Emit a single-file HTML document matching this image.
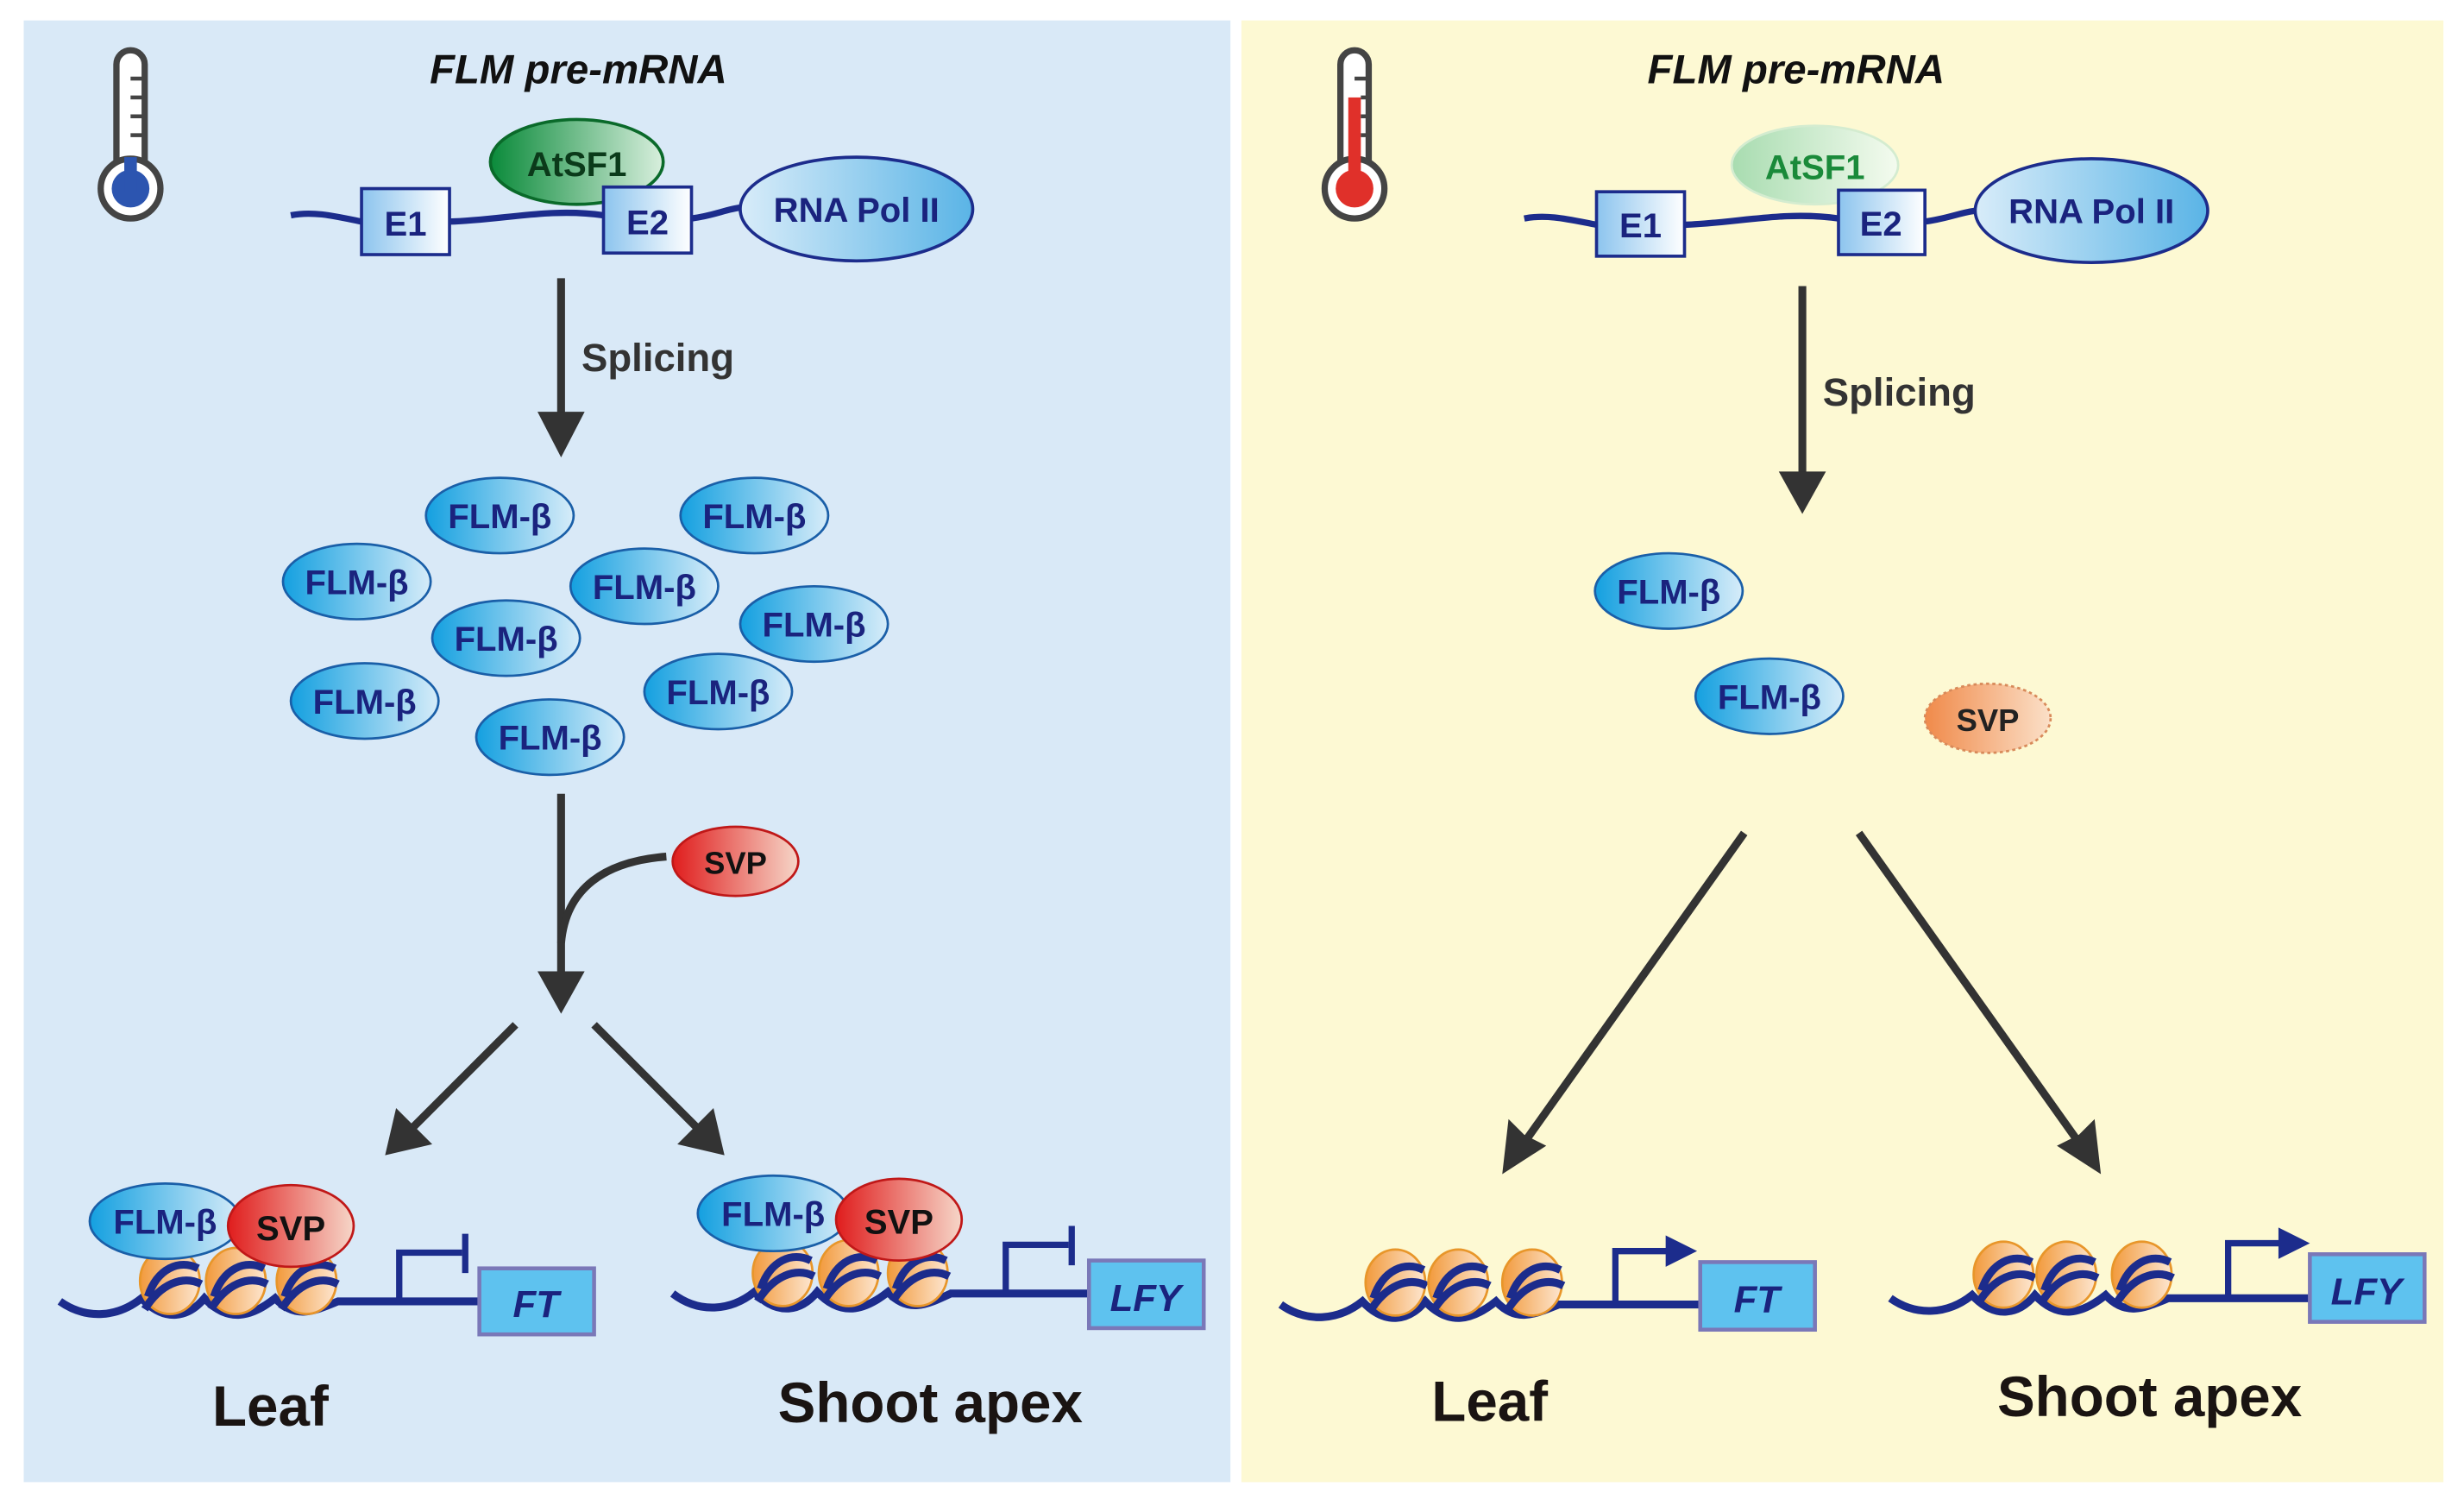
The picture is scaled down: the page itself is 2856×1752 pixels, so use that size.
<!DOCTYPE html>
<html><head><meta charset="utf-8"><style>
html,body{margin:0;padding:0;background:#fff;}
svg{display:block;}
text{font-family:"Liberation Sans",sans-serif;font-weight:bold;}
</style></head><body>
<svg width="2856" height="1752" viewBox="0 0 1568 962" xmlns="http://www.w3.org/2000/svg">
<defs>
<linearGradient id="gb" x1="0" x2="1" y1="0" y2="0"><stop offset="0" stop-color="#14a0e0"/><stop offset="1" stop-color="#d6ecf9"/></linearGradient>
<linearGradient id="gr" x1="0" x2="1"><stop offset="0" stop-color="#e01d1d"/><stop offset="1" stop-color="#f6d6c8"/></linearGradient>
<linearGradient id="gro" x1="0" x2="1"><stop offset="0" stop-color="#f08a4a"/><stop offset="1" stop-color="#fbe0c8"/></linearGradient>
<linearGradient id="gg" x1="0" x2="1"><stop offset="0" stop-color="#0a8a3a"/><stop offset="1" stop-color="#d8efdd"/></linearGradient>
<linearGradient id="ggl" x1="0" x2="1"><stop offset="0" stop-color="#a8dcb0"/><stop offset="1" stop-color="#f4fbef"/></linearGradient>
<linearGradient id="gbox" x1="0" x2="1"><stop offset="0" stop-color="#8cc4ee"/><stop offset="1" stop-color="#ffffff"/></linearGradient>
<linearGradient id="gpol" x1="0" x2="1"><stop offset="0" stop-color="#d8ecf9"/><stop offset="1" stop-color="#5ab4e6"/></linearGradient>
<linearGradient id="gn" x1="0" x2="1"><stop offset="0" stop-color="#f29a3c"/><stop offset="1" stop-color="#fde6d0"/></linearGradient>
<g id="nuc">
<ellipse cx="0" cy="0" rx="19" ry="21" fill="url(#gn)" stroke="#e8962a" stroke-width="1.5"/>
<path d="M-14,10 C-8,-8 6,-14 18,-8" fill="none" stroke="#1c2c8c" stroke-width="5"/>
<path d="M-16,18 C-6,2 8,-4 20,2" fill="none" stroke="#1c2c8c" stroke-width="5"/>
</g>
<g id="flm">
<ellipse cx="0" cy="0" rx="47" ry="24" fill="url(#gb)" stroke="#1a5fa8" stroke-width="1.5"/>
<text x="0" y="8" text-anchor="middle" font-size="22" fill="#1a237e">FLM-β</text>
</g>
</defs>

<rect x="15" y="13" width="768" height="930" fill="#d9e9f7"/>
<rect x="790" y="13" width="765" height="930" fill="#fdf9d3"/>

<!-- LEFT -->
<g>
<rect x="74" y="32" width="18" height="90" rx="9" fill="#fff" stroke="#444" stroke-width="4"/>
<circle cx="83" cy="120" r="19" fill="#fff" stroke="#444" stroke-width="4"/>
<circle cx="83" cy="120" r="12" fill="#2c55b0"/>
<rect x="79" y="100" width="8" height="22" fill="#2c55b0"/>
<g stroke="#444" stroke-width="2.5"><line x1="83" y1="50" x2="91" y2="50"/><line x1="83" y1="62" x2="91" y2="62"/><line x1="83" y1="74" x2="91" y2="74"/><line x1="83" y1="86" x2="91" y2="86"/></g>
</g>
<text x="368" y="53" text-anchor="middle" font-size="26" font-style="italic" fill="#111">FLM pre-mRNA</text>
<path d="M185,137 C200,134 215,138 230,141 M286,141 C320,140 350,132 384,137 M440,139 C455,137 462,133 472,132" fill="none" stroke="#1c2c8c" stroke-width="4"/>
<ellipse cx="367" cy="103" rx="55" ry="27" fill="url(#gg)" stroke="#0a6a2a" stroke-width="2"/>
<text x="367" y="112" text-anchor="middle" font-size="22" fill="#0b3a1a">AtSF1</text>
<rect x="230" y="120" width="56" height="42" fill="url(#gbox)" stroke="#1c2c8c" stroke-width="2"/>
<text x="258" y="150" text-anchor="middle" font-size="22" fill="#1a237e">E1</text>
<rect x="384" y="119" width="56" height="42" fill="url(#gbox)" stroke="#1c2c8c" stroke-width="2"/>
<text x="412" y="149" text-anchor="middle" font-size="22" fill="#1a237e">E2</text>
<ellipse cx="545" cy="133" rx="74" ry="33" fill="url(#gpol)" stroke="#1c2c8c" stroke-width="2"/>
<text x="545" y="141" text-anchor="middle" font-size="22" fill="#1a237e">RNA Pol II</text>

<line x1="357" y1="177" x2="357" y2="265" stroke="#333" stroke-width="5"/>
<polygon points="342,262 372,262 357,291" fill="#333"/>
<text x="370" y="236" font-size="25" fill="#333">Splicing</text>

<use href="#flm" x="318" y="328"/><use href="#flm" x="480" y="328"/>
<use href="#flm" x="227" y="370"/><use href="#flm" x="410" y="373"/>
<use href="#flm" x="322" y="406"/><use href="#flm" x="518" y="397"/>
<use href="#flm" x="232" y="446"/><use href="#flm" x="457" y="440"/>
<use href="#flm" x="350" y="469"/>

<line x1="357" y1="505" x2="357" y2="622" stroke="#333" stroke-width="5"/>
<path d="M424,545 C385,548 360,565 357,600" fill="none" stroke="#333" stroke-width="5"/>
<polygon points="342,618 372,618 357,645" fill="#333"/>
<ellipse cx="468" cy="548" rx="40" ry="22" fill="url(#gr)" stroke="#c01818" stroke-width="1.5"/>
<text x="468" y="556" text-anchor="middle" font-size="20" fill="#111">SVP</text>

<line x1="328" y1="652" x2="262" y2="718" stroke="#333" stroke-width="5"/>
<polygon points="245,735 252,705 275,728" fill="#333"/>
<line x1="378" y1="652" x2="444" y2="718" stroke="#333" stroke-width="5"/>
<polygon points="461,735 431,728 454,705" fill="#333"/>

<!-- bottom left: leaf -->
<path d="M38,828 C55,840 75,838 90,826 C105,842 120,838 130,826 C145,842 160,838 175,826 C188,840 200,834 215,828 L305,828" fill="none" stroke="#1c2c8c" stroke-width="5"/>
<use href="#nuc" x="108" y="815"/><use href="#nuc" x="150" y="815"/><use href="#nuc" x="195" y="815"/>
<ellipse cx="105" cy="777" rx="48" ry="24" fill="url(#gb)" stroke="#1a5fa8" stroke-width="1.5"/>
<text x="105" y="785" text-anchor="middle" font-size="22" fill="#1a237e">FLM-β</text>
<ellipse cx="185" cy="780" rx="40" ry="26" fill="url(#gr)" stroke="#c01818" stroke-width="1.5"/>
<text x="185" y="789" text-anchor="middle" font-size="22" fill="#111">SVP</text>
<path d="M254,828 L254,797 L294,797" fill="none" stroke="#1c2c8c" stroke-width="4"/>
<line x1="296" y1="785" x2="296" y2="810" stroke="#1c2c8c" stroke-width="4"/>
<rect x="305" y="807" width="73" height="42" fill="#5ec2ef" stroke="#7a78b8" stroke-width="2.5"/>
<text x="341" y="838" text-anchor="middle" font-size="24" font-style="italic" fill="#1a237e">FT</text>
<text x="172" y="907" text-anchor="middle" font-size="36" fill="#1a1412">Leaf</text>

<!-- bottom left: shoot apex -->
<path d="M428,823 C445,836 465,834 480,822 C495,838 510,834 520,822 C535,838 550,834 565,822 C578,836 590,830 605,823 L693,823" fill="none" stroke="#1c2c8c" stroke-width="5"/>
<use href="#nuc" x="498" y="810"/><use href="#nuc" x="540" y="810"/><use href="#nuc" x="584" y="810"/>
<ellipse cx="492" cy="772" rx="48" ry="24" fill="url(#gb)" stroke="#1a5fa8" stroke-width="1.5"/>
<text x="492" y="780" text-anchor="middle" font-size="22" fill="#1a237e">FLM-β</text>
<ellipse cx="572" cy="776" rx="40" ry="26" fill="url(#gr)" stroke="#c01818" stroke-width="1.5"/>
<text x="572" y="785" text-anchor="middle" font-size="22" fill="#111">SVP</text>
<path d="M640,823 L640,792 L680,792" fill="none" stroke="#1c2c8c" stroke-width="4"/>
<line x1="682" y1="780" x2="682" y2="805" stroke="#1c2c8c" stroke-width="4"/>
<rect x="693" y="802" width="73" height="43" fill="#5ec2ef" stroke="#7a78b8" stroke-width="2.5"/>
<text x="729" y="834" text-anchor="middle" font-size="24" font-style="italic" fill="#1a237e">LFY</text>
<text x="592" y="905" text-anchor="middle" font-size="36" fill="#1a1412">Shoot apex</text>

<!-- RIGHT -->
<g>
<rect x="853" y="32" width="18" height="90" rx="9" fill="#fff" stroke="#444" stroke-width="4"/>
<circle cx="862" cy="120" r="19" fill="#fff" stroke="#444" stroke-width="4"/>
<circle cx="862" cy="120" r="12" fill="#e0302a"/>
<rect x="858" y="62" width="8" height="60" fill="#e0302a"/>
<g stroke="#444" stroke-width="2.5"><line x1="862" y1="50" x2="870" y2="50"/><line x1="866" y1="62" x2="870" y2="62"/><line x1="866" y1="74" x2="870" y2="74"/><line x1="866" y1="86" x2="870" y2="86"/></g>
</g>
<text x="1143" y="53" text-anchor="middle" font-size="26" font-style="italic" fill="#111">FLM pre-mRNA</text>
<path d="M970,139 C985,136 1000,140 1016,143 M1072,143 C1105,142 1135,134 1170,139 M1225,141 C1240,139 1248,135 1258,134" fill="none" stroke="#1c2c8c" stroke-width="4"/>
<ellipse cx="1155" cy="105" rx="53" ry="25" fill="url(#ggl)" stroke="#d4ecd0" stroke-width="1.5"/>
<text x="1155" y="114" text-anchor="middle" font-size="22" fill="#1a8a3a">AtSF1</text>
<rect x="1016" y="122" width="56" height="41" fill="url(#gbox)" stroke="#1c2c8c" stroke-width="2"/>
<text x="1044" y="151" text-anchor="middle" font-size="22" fill="#1a237e">E1</text>
<rect x="1170" y="121" width="55" height="41" fill="url(#gbox)" stroke="#1c2c8c" stroke-width="2"/>
<text x="1197" y="150" text-anchor="middle" font-size="22" fill="#1a237e">E2</text>
<ellipse cx="1331" cy="134" rx="74" ry="33" fill="url(#gpol)" stroke="#1c2c8c" stroke-width="2"/>
<text x="1331" y="142" text-anchor="middle" font-size="22" fill="#1a237e">RNA Pol II</text>

<line x1="1147" y1="182" x2="1147" y2="302" stroke="#333" stroke-width="5"/>
<polygon points="1132,300 1162,300 1147,327" fill="#333"/>
<text x="1160" y="258" font-size="25" fill="#333">Splicing</text>

<use href="#flm" x="1062" y="376"/><use href="#flm" x="1126" y="443"/>
<ellipse cx="1265" cy="457" rx="40" ry="22" fill="url(#gro)" stroke="#d88a5a" stroke-width="1.5" stroke-dasharray="2,2"/>
<text x="1265" y="465" text-anchor="middle" font-size="20" fill="#222">SVP</text>

<line x1="1110" y1="530" x2="970" y2="727" stroke="#333" stroke-width="5"/>
<polygon points="956,747 960,712 970,722 984,729" fill="#333"/>
<line x1="1183" y1="530" x2="1323" y2="727" stroke="#333" stroke-width="5"/>
<polygon points="1337,747 1309,729 1323,722 1333,712" fill="#333"/>

<path d="M815,830 C832,842 852,840 867,828 C882,844 897,840 907,828 C922,844 937,840 952,828 C965,842 977,836 992,830 L1082,830" fill="none" stroke="#1c2c8c" stroke-width="5"/>
<use href="#nuc" x="888" y="816"/><use href="#nuc" x="928" y="816"/><use href="#nuc" x="975" y="816"/>
<path d="M1028,830 L1028,796 L1062,796" fill="none" stroke="#1c2c8c" stroke-width="4"/>
<polygon points="1060,786 1080,796 1060,806" fill="#1c2c8c"/>
<rect x="1082" y="803" width="73" height="43" fill="#5ec2ef" stroke="#7a78b8" stroke-width="2.5"/>
<text x="1118" y="835" text-anchor="middle" font-size="24" font-style="italic" fill="#1a237e">FT</text>
<text x="948" y="904" text-anchor="middle" font-size="36" fill="#1a1412">Leaf</text>

<path d="M1203,826 C1220,838 1240,836 1255,824 C1270,840 1285,836 1295,824 C1310,840 1325,836 1340,824 C1353,838 1365,832 1380,826 L1470,826" fill="none" stroke="#1c2c8c" stroke-width="5"/>
<use href="#nuc" x="1275" y="811"/><use href="#nuc" x="1315" y="811"/><use href="#nuc" x="1363" y="811"/>
<path d="M1418,826 L1418,791 L1452,791" fill="none" stroke="#1c2c8c" stroke-width="4"/>
<polygon points="1450,781 1470,791 1450,801" fill="#1c2c8c"/>
<rect x="1470" y="798" width="73" height="43" fill="#5ec2ef" stroke="#7a78b8" stroke-width="2.5"/>
<text x="1506" y="830" text-anchor="middle" font-size="24" font-style="italic" fill="#1a237e">LFY</text>
<text x="1368" y="901" text-anchor="middle" font-size="36" fill="#1a1412">Shoot apex</text>
</svg>
</body></html>
